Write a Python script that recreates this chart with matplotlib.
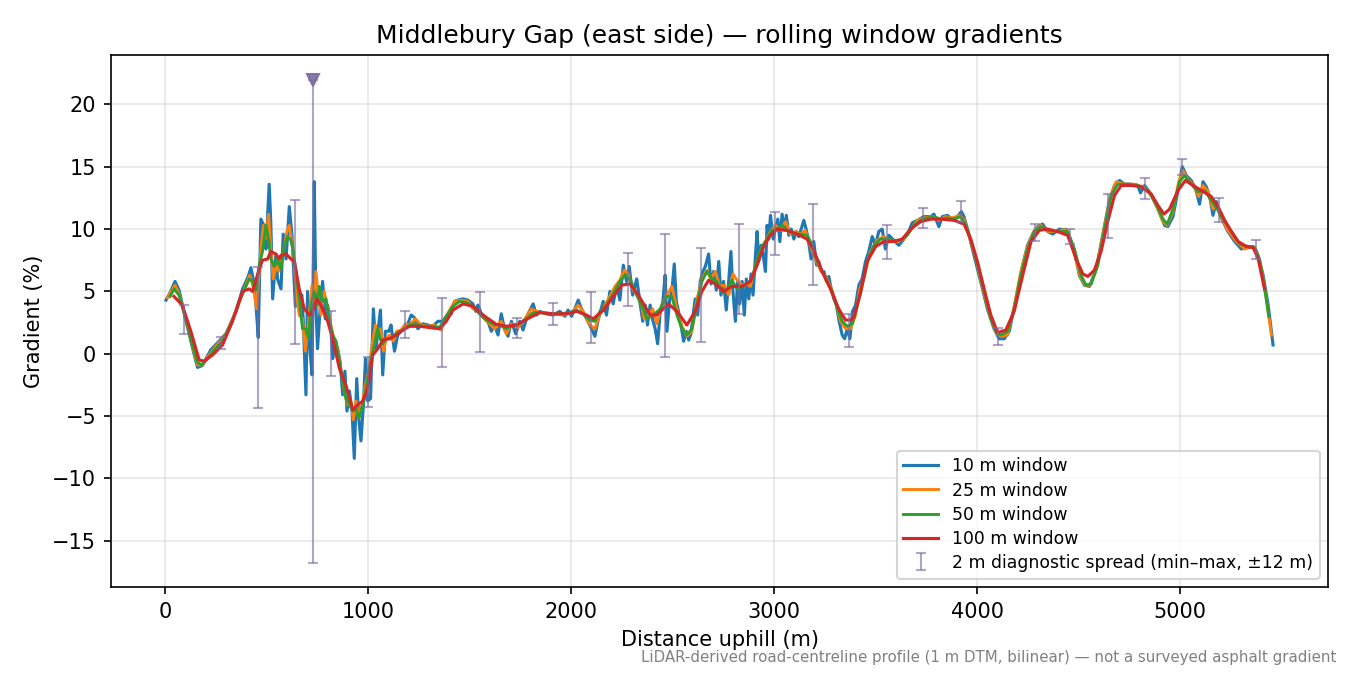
import numpy as np
import matplotlib
matplotlib.use("Agg")
import matplotlib.pyplot as plt

# 10 m window (distance m, gradient %)
d10 = [5, 25, 49, 69, 101, 130, 160, 184, 225, 260, 300, 350, 382, 410, 423, 440, 452, 459, 472, 489,
       497, 513, 521, 530, 546, 554, 571, 582, 596, 612, 625, 642, 661, 674, 681, 694, 702, 714, 724, 735,
       743, 751, 763, 776, 789, 801, 817, 826, 839, 850, 862, 875, 886, 896, 908, 921, 932, 944, 954, 965,
       977, 987, 998, 1012, 1026, 1039, 1052, 1061, 1072, 1085, 1102, 1113, 1130, 1146, 1163, 1179, 1196, 1212, 1228, 1245,
       1270, 1294, 1319, 1344, 1368, 1385, 1410, 1426, 1442, 1467, 1492, 1516, 1530, 1541, 1558, 1574, 1590, 1607, 1623, 1640,
       1656, 1673, 1689, 1706, 1727, 1747, 1763, 1788, 1813, 1829, 1845, 1878, 1911, 1944, 1969, 1985, 2002, 2018, 2035, 2051,
       2076, 2100, 2117, 2133, 2158, 2174, 2191, 2207, 2224, 2240, 2257, 2273, 2286, 2303, 2323, 2340, 2353, 2365, 2376, 2389,
       2402, 2414, 2426, 2439, 2452, 2463, 2472, 2485, 2496, 2508, 2518, 2529, 2541, 2554, 2567, 2579, 2590, 2603, 2611, 2623,
       2636, 2649, 2661, 2677, 2689, 2702, 2715, 2727, 2738, 2751, 2764, 2776, 2787, 2797, 2809, 2820, 2830, 2842, 2853, 2863,
       2875, 2886, 2896, 2908, 2916, 2924, 2936, 2945, 2957, 2965, 2973, 2982, 2995, 3006, 3018, 3028, 3039, 3051, 3060, 3072,
       3084, 3097, 3110, 3121, 3133, 3146, 3159, 3171, 3182, 3195, 3209, 3220, 3232, 3245, 3258, 3269, 3281, 3294, 3307, 3320,
       3335, 3347, 3360, 3373, 3386, 3401, 3417, 3433, 3450, 3466, 3483, 3499, 3515, 3532, 3548, 3565, 3589, 3614, 3639, 3663,
       3680, 3705, 3737, 3771, 3787, 3811, 3828, 3853, 3877, 3902, 3922, 3935, 3960, 3984, 4017, 4050, 4083, 4108, 4133, 4158,
       4191, 4224, 4248, 4273, 4298, 4322, 4347, 4372, 4405, 4437, 4454, 4479, 4503, 4528, 4553, 4586, 4618, 4651, 4676, 4701,
       4725, 4758, 4791, 4804, 4824, 4857, 4890, 4923, 4939, 4964, 4989, 5010, 5030, 5054, 5076, 5095, 5112, 5128, 5145, 5161,
       5178, 5194, 5211, 5235, 5268, 5301, 5334, 5359, 5383, 5408, 5433, 5457]
g10 = [4.3, 4.9, 5.8, 5.1, 2.8, 0.8, -1.1, -0.95, 0.3, 0.9, 1.6, 3.4, 5.2, 6.2, 6.9, 5.5, 3.0, 1.3, 10.8, 10.2,
       8.4, 13.6, 10.5, 4.4, 7.9, 6.0, 5.2, 9.6, 7.6, 11.8, 9.5, 3.8, 4.8, 4.7, 2.6, -3.3, 5.0, 0.2, -1.7, 13.8,
       3.9, 0.4, 3.4, 5.8, 2.8, 3.9, 2.0, -0.4, 1.0, 0.4, -0.6, -3.3, -1.4, -4.6, -3.0, -4.6, -8.4, -2.0, -5.2, -7.0,
       -4.1, -0.4, -3.8, -3.6, 3.6, 0.4, 2.3, 3.5, -1.7, 1.8, 1.8, 2.3, 0.2, 1.5, 1.8, 2.0, 2.4, 3.1, 2.9, 2.0,
       2.4, 2.3, 2.2, 2.6, 2.6, 3.0, 3.2, 4.2, 4.3, 4.4, 4.3, 4.0, 3.4, 3.9, 3.2, 3.0, 2.6, 1.8, 2.3, 1.5,
       3.2, 1.9, 1.4, 2.6, 1.6, 2.6, 1.9, 3.2, 4.0, 3.1, 3.4, 3.2, 3.1, 3.4, 3.0, 3.5, 3.0, 3.6, 4.3, 3.6,
       2.8, 2.0, 1.4, 2.7, 4.2, 3.1, 5.0, 4.0, 5.5, 4.3, 7.1, 5.8, 7.0, 4.7, 6.0, 4.0, 2.6, 3.9, 2.3, 3.9,
       2.7, 2.0, 0.8, 3.4, 4.2, 6.3, 1.8, 4.3, 5.0, 7.2, 4.2, 3.4, 2.3, 1.0, 1.8, 1.1, 1.6, 3.4, 4.4, 3.1,
       5.8, 6.6, 7.0, 8.0, 5.6, 6.6, 5.1, 7.4, 4.7, 5.8, 3.5, 5.8, 8.2, 5.0, 2.6, 5.8, 4.0, 5.8, 3.1, 6.0,
       4.4, 6.4, 4.7, 7.9, 9.8, 7.4, 8.7, 8.0, 6.6, 10.3, 9.2, 11.1, 9.2, 10.0, 10.8, 9.0, 11.2, 9.9, 11.1, 9.5,
       10.0, 9.2, 9.8, 9.4, 10.0, 10.7, 9.9, 8.8, 7.6, 9.0, 7.1, 7.4, 6.6, 6.6, 5.8, 6.2, 5.2, 4.4, 3.9, 2.6,
       1.5, 1.2, 2.0, 1.2, 3.4, 3.9, 5.5, 6.0, 7.4, 8.2, 9.4, 8.7, 9.8, 10.0, 8.4, 9.5, 9.1, 8.7, 9.2, 9.8,
       10.5, 10.7, 11.0, 11.0, 11.2, 10.2, 11.0, 11.1, 10.8, 11.0, 11.4, 11.0, 9.5, 7.9, 5.8, 3.6, 2.0, 1.2, 1.2, 1.8,
       4.4, 7.1, 8.7, 9.6, 10.2, 10.4, 9.8, 9.6, 10.0, 9.9, 9.2, 8.2, 6.3, 5.5, 5.4, 6.8, 9.5, 12.3, 13.5, 13.9,
       13.6, 13.6, 13.5, 12.9, 13.5, 12.8, 11.6, 10.3, 10.2, 11.0, 13.1, 15.0, 14.3, 13.9, 13.2, 12.0, 13.8, 13.4, 12.6, 11.1,
       12.2, 11.2, 10.6, 9.8, 9.0, 8.4, 8.6, 8.6, 7.9, 6.3, 3.9, 0.7]

# 25 m window
d25 = [12, 30, 49, 69, 102, 135, 160, 184, 217, 250, 299, 349, 390, 418, 436, 451, 464, 472, 484, 493,
       510, 521, 533, 546, 559, 576, 589, 600, 612, 625, 637, 650, 661, 677, 691, 707, 724, 735, 743, 756,
       768, 784, 801, 817, 834, 850, 867, 883, 900, 916, 927, 941, 954, 970, 987, 1003, 1020, 1036, 1048, 1061,
       1076, 1089, 1105, 1125, 1141, 1163, 1184, 1204, 1233, 1261, 1294, 1327, 1360, 1385, 1426, 1459, 1492, 1516, 1541, 1566,
       1599, 1623, 1656, 1681, 1706, 1739, 1772, 1804, 1829, 1862, 1911, 1961, 2002, 2035, 2059, 2092, 2117, 2142, 2166, 2191,
       2216, 2240, 2262, 2281, 2303, 2326, 2347, 2360, 2381, 2402, 2422, 2447, 2472, 2496, 2521, 2546, 2570, 2595, 2620, 2644,
       2669, 2689, 2710, 2732, 2755, 2776, 2797, 2817, 2842, 2863, 2883, 2908, 2932, 2957, 2982, 3006, 3031, 3056, 3080, 3105,
       3130, 3154, 3179, 3204, 3228, 3253, 3278, 3302, 3327, 3352, 3376, 3401, 3422, 3441, 3474, 3507, 3540, 3573, 3606, 3639,
       3672, 3705, 3737, 3779, 3811, 3844, 3877, 3915, 3938, 3964, 3997, 4030, 4063, 4096, 4117, 4150, 4182, 4215, 4248, 4281,
       4314, 4347, 4396, 4437, 4470, 4503, 4531, 4558, 4590, 4623, 4656, 4684, 4725, 4775, 4816, 4849, 4882, 4915, 4936, 4964,
       4992, 5013, 5038, 5071, 5090, 5112, 5137, 5161, 5183, 5206, 5235, 5276, 5318, 5350, 5375, 5400, 5424, 5449]
g25 = [4.5, 5.0, 5.5, 4.8, 2.8, 0.6, -0.9, -0.9, -0.1, 0.6, 1.5, 3.4, 5.2, 6.3, 5.2, 3.6, 6.6, 8.4, 10.3, 9.2,
       11.2, 8.4, 6.0, 7.1, 6.6, 7.6, 8.7, 9.8, 10.3, 8.8, 7.1, 4.4, 3.1, 2.8, 0.2, 2.6, 5.5, 3.9, 6.6, 4.4,
       3.1, 5.0, 3.6, 2.3, 1.0, 0.4, -1.4, -3.0, -4.1, -3.8, -5.3, -3.8, -5.2, -4.1, -2.5, -1.4, 0.7, 2.3, 1.5, 2.0,
       0.2, 1.2, 1.5, 1.0, 1.8, 1.9, 2.4, 2.3, 2.8, 2.3, 2.2, 2.3, 1.9, 3.0, 4.2, 4.3, 4.2, 3.6, 3.5, 2.9,
       2.4, 2.0, 2.6, 1.6, 2.4, 2.1, 2.8, 3.6, 3.4, 3.3, 3.2, 3.1, 3.3, 3.9, 3.4, 2.3, 2.0, 3.2, 3.9, 4.6,
       5.4, 5.9, 6.7, 6.4, 5.2, 4.7, 3.9, 2.8, 3.1, 3.6, 2.4, 3.9, 4.7, 5.4, 3.6, 2.2, 1.4, 1.8, 4.4, 6.0,
       6.7, 6.0, 6.6, 5.4, 5.5, 4.7, 6.4, 5.9, 5.5, 5.6, 5.4, 7.1, 8.2, 9.0, 9.8, 10.3, 9.9, 10.6, 9.6, 9.8,
       9.6, 9.9, 8.6, 7.6, 6.7, 6.2, 5.4, 4.2, 2.6, 2.0, 2.0, 3.1, 5.2, 6.0, 8.2, 9.1, 9.4, 9.0, 9.0, 9.2,
       9.9, 10.7, 10.9, 11.0, 10.7, 11.0, 10.9, 11.1, 10.7, 9.2, 7.4, 5.1, 3.0, 1.6, 1.4, 1.5, 3.8, 6.6, 8.6, 9.9,
       10.3, 9.8, 9.8, 10.0, 8.7, 6.4, 5.5, 5.5, 7.0, 9.9, 12.6, 13.8, 13.6, 13.6, 13.4, 13.0, 11.9, 10.6, 10.3, 11.4,
       13.8, 14.7, 14.0, 13.4, 12.6, 13.5, 13.0, 11.6, 11.9, 10.8, 9.9, 9.0, 8.4, 8.6, 8.3, 6.8, 4.4, 1.5]

# 50 m window
d50 = [25, 44, 69, 102, 135, 160, 181, 209, 242, 283, 324, 365, 398, 415, 431, 447, 464, 480, 497, 510,
       521, 538, 554, 571, 587, 604, 617, 628, 645, 661, 677, 694, 707, 719, 735, 751, 760, 776, 793, 809,
       826, 842, 858, 875, 891, 908, 924, 941, 954, 965, 982, 998, 1015, 1031, 1048, 1059, 1072, 1089, 1113, 1138,
       1171, 1204, 1228, 1270, 1319, 1352, 1385, 1418, 1451, 1484, 1516, 1549, 1582, 1615, 1648, 1681, 1714, 1747, 1780, 1813,
       1845, 1895, 1944, 1994, 2027, 2059, 2092, 2117, 2142, 2174, 2207, 2240, 2265, 2290, 2323, 2355, 2373, 2406, 2439, 2472,
       2496, 2521, 2546, 2570, 2595, 2620, 2644, 2669, 2694, 2718, 2743, 2768, 2792, 2817, 2842, 2866, 2891, 2916, 2940, 2965,
       2990, 3014, 3039, 3064, 3097, 3130, 3163, 3187, 3212, 3237, 3261, 3286, 3311, 3335, 3360, 3385, 3409, 3425, 3458, 3491,
       3524, 3556, 3589, 3622, 3655, 3688, 3721, 3754, 3787, 3820, 3853, 3886, 3918, 3943, 3968, 4001, 4034, 4067, 4099, 4117,
       4150, 4182, 4215, 4248, 4281, 4314, 4347, 4396, 4446, 4479, 4511, 4536, 4561, 4594, 4627, 4660, 4692, 4742, 4791, 4840,
       4882, 4915, 4936, 4964, 4997, 5021, 5054, 5087, 5120, 5153, 5186, 5219, 5252, 5293, 5334, 5367, 5392, 5416, 5436]
g50 = [4.6, 5.2, 4.7, 2.8, 0.7, -0.7, -0.9, -0.4, 0.3, 1.0, 2.3, 4.2, 5.4, 6.0, 5.8, 5.1, 7.1, 8.2, 10.3, 9.2,
       7.6, 7.0, 7.6, 6.8, 8.6, 9.4, 9.2, 8.6, 6.6, 4.4, 2.0, 2.0, 1.2, 3.9, 5.0, 3.9, 5.4, 4.2, 4.4, 2.6,
       1.5, 1.0, -0.6, -2.2, -3.6, -4.1, -4.6, -4.4, -5.2, -4.6, -3.6, -2.0, -0.4, 0.7, 2.0, 1.2, 0.8, 1.2, 1.2, 1.6,
       1.9, 2.3, 2.4, 2.2, 2.2, 2.1, 3.0, 3.8, 4.2, 4.1, 3.8, 3.2, 2.7, 2.4, 2.3, 2.0, 2.3, 2.4, 2.8, 3.3,
       3.3, 3.2, 3.2, 3.3, 3.5, 3.2, 2.7, 2.6, 3.4, 3.9, 4.8, 5.8, 6.3, 6.0, 4.7, 3.6, 2.8, 3.1, 3.6, 4.6,
       4.6, 3.1, 2.0, 1.5, 2.0, 4.0, 5.8, 6.6, 6.0, 5.8, 5.0, 5.1, 5.9, 5.2, 5.4, 5.6, 6.0, 7.6, 8.6, 9.2,
       9.9, 10.0, 10.3, 9.9, 9.6, 9.6, 9.5, 8.7, 7.4, 6.6, 5.8, 5.0, 3.6, 2.6, 2.2, 2.4, 3.8, 4.8, 7.4, 8.7,
       9.2, 9.2, 9.1, 9.1, 9.5, 10.3, 10.7, 10.9, 11.0, 10.8, 10.9, 10.8, 11.0, 10.4, 9.2, 7.2, 5.0, 2.8, 1.6, 1.5,
       1.8, 3.6, 6.3, 8.4, 9.8, 10.2, 9.9, 9.8, 9.8, 8.4, 6.3, 5.5, 5.6, 7.1, 10.0, 12.7, 13.6, 13.6, 13.5, 13.1,
       12.0, 10.8, 10.4, 11.6, 13.8, 14.3, 13.6, 13.0, 13.1, 12.3, 11.5, 10.6, 9.8, 8.8, 8.6, 8.5, 7.5, 5.2, 3.0]

# 100 m window
d100 = [44, 85, 127, 168, 192, 234, 283, 332, 382, 415, 431, 464, 480, 505, 521, 546, 563, 571, 596, 620,
        637, 661, 686, 711, 722, 735, 747, 768, 801, 826, 859, 892, 925, 949, 974, 998, 1023, 1048, 1073, 1105,
        1139, 1171, 1204, 1254, 1303, 1352, 1385, 1418, 1468, 1517, 1566, 1632, 1681, 1731, 1797, 1846, 1912, 1978, 2027, 2076,
        2109, 2159, 2208, 2249, 2290, 2331, 2364, 2389, 2422, 2479, 2521, 2570, 2611, 2644, 2677, 2710, 2751, 2792, 2841, 2883,
        2916, 2948, 2981, 3014, 3063, 3113, 3162, 3195, 3236, 3277, 3318, 3351, 3376, 3392, 3425, 3458, 3500, 3540, 3590, 3631,
        3672, 3722, 3771, 3820, 3886, 3935, 3968, 4001, 4034, 4067, 4100, 4141, 4182, 4224, 4265, 4306, 4347, 4396, 4446, 4487,
        4520, 4545, 4577, 4610, 4643, 4676, 4709, 4758, 4808, 4857, 4890, 4920, 4947, 4989, 5025, 5054, 5104, 5153, 5186, 5219,
        5252, 5285, 5326, 5360, 5384, 5415]
g100 = [4.6, 3.9, 1.8, -0.5, -0.6, -0.1, 0.7, 2.6, 5.0, 5.2, 5.0, 6.8, 7.5, 7.6, 8.2, 8.0, 7.6, 7.9, 8.0, 7.6,
        7.4, 5.2, 3.6, 3.1, 3.2, 3.8, 4.4, 3.9, 2.6, 1.2, -1.2, -2.6, -4.5, -4.1, -3.8, -2.8, -0.1, 0.4, 1.1, 1.2,
        1.5, 1.9, 2.2, 2.2, 2.1, 2.0, 2.6, 3.5, 4.0, 3.8, 3.1, 2.35, 2.2, 2.3, 2.9, 3.3, 3.2, 3.2, 3.4, 3.1,
        2.8, 3.5, 4.6, 5.5, 5.6, 4.7, 3.8, 3.1, 3.1, 4.0, 3.4, 2.3, 3.4, 5.0, 5.9, 5.6, 5.0, 5.4, 5.4, 5.8,
        7.1, 8.6, 9.5, 10.0, 9.9, 9.6, 9.2, 8.3, 6.6, 5.2, 3.6, 2.7, 2.7, 2.9, 4.9, 7.4, 8.6, 9.0, 9.0, 9.2,
        10.0, 10.6, 10.8, 10.8, 10.7, 10.4, 9.2, 7.4, 5.2, 3.1, 1.7, 1.9, 3.4, 6.3, 9.0, 9.9, 10.0, 9.8, 9.5, 7.6,
        6.4, 6.2, 6.7, 8.2, 10.6, 12.7, 13.5, 13.5, 13.4, 12.8, 11.9, 11.2, 11.6, 13.1, 13.9, 13.6, 13.1, 12.6, 11.8, 10.7,
        9.8, 9.0, 8.6, 8.5, 7.6, 5.2]

# 2 m diagnostic spread (min / max within +-12 m)
spread_d = [94, 276, 459, 641, 730, 819, 1000, 1184, 1366, 1549, 1731, 1910, 2096, 2278, 2463, 2641,
            2825, 3006, 3190, 3371, 3554, 3735, 3919, 4100, 4284, 4459, 4643, 4824, 5010, 5189, 5372]
spread_lo = [1.55, 0.37, -4.37, 0.75, -16.8, -1.8, -4.3, 1.23, -1.09, 0.16, 1.23, 2.3, 0.83, 3.84, -0.29, 0.91,
             3.2, 7.95, 5.55, 0.5, 7.6, 10.1, 10.56, 0.69, 9.04, 8.8, 9.3, 12.4, 14.3, 10.56, 7.6]
spread_hi = [3.9, 1.36, 6.96, 12.3, 22.0, 3.4, -0.24, 3.4, 4.43, 4.96, 2.88, 4.1, 4.96, 8.1, 9.6, 8.48,
             10.4, 11.36, 12.0, 3.17, 10.3, 11.7, 12.24, 2.1, 10.4, 9.97, 12.8, 14.1, 15.6, 12.5, 9.15]
clip_top = 22.0

fig, ax = plt.subplots(figsize=(9, 4.5), dpi=150)
fig.subplots_adjust(left=0.082, right=0.984, top=0.918, bottom=0.130)

ax.plot(d10, g10, color="tab:blue", lw=1.5, label="10 m window")
ax.plot(d25, g25, color="tab:orange", lw=1.4, label="25 m window")
ax.plot(d50, g50, color="tab:green", lw=1.4, label="50 m window")
ax.plot(d100, g100, color="tab:red", lw=1.5, label="100 m window")

lo = np.array(spread_lo)
hi = np.array(spread_hi)
mid = (lo + hi) / 2
ax.errorbar(spread_d, mid, yerr=[mid - lo, hi - mid], fmt="none", ecolor="#7b6a9f",
            alpha=0.6, elinewidth=1.0, capsize=2.5, zorder=5,
            label="2 m diagnostic spread (min\u2013max, \u00b112 m)")
# clipped spread marker
clipped = [d for d, h in zip(spread_d, spread_hi) if h >= clip_top]
ax.plot(clipped, [clip_top] * len(clipped), "v", color="#7b6a9f", alpha=0.9, ms=6, zorder=6)

ax.set_title("Middlebury Gap (east side) \u2014 rolling window gradients", fontsize=12)
ax.set_xlabel("Distance uphill (m)", fontsize=10)
ax.set_ylabel("Gradient (%)", fontsize=10)
ax.tick_params(labelsize=10)
ax.grid(True, alpha=0.3)
ax.legend(loc="lower right", fontsize=8.3, labelspacing=0.35)

fig.text(0.99, 0.015, "LiDAR-derived road-centreline profile (1 m DTM, bilinear) \u2014 not a surveyed asphalt gradient",
         ha="right", va="bottom", fontsize=7.2, color="grey")

fig.savefig("out.png")
